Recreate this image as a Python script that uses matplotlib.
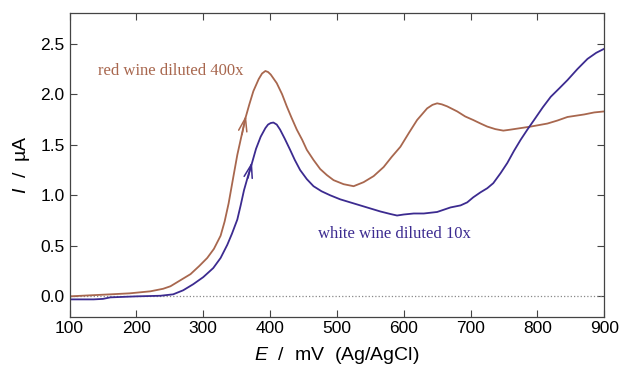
import numpy as np
import matplotlib
matplotlib.use('Agg')
import matplotlib.pyplot as plt

matplotlib.rcParams.update({'font.size': 12.5, 'font.family': 'Liberation Sans',
                            'mathtext.fontset': 'custom',
                            'mathtext.rm': 'Liberation Sans',
                            'mathtext.it': 'Liberation Sans:italic'})

# red wine diluted 400x
red_E = [100, 130, 161, 190, 221, 240, 251, 266, 281, 294, 306, 316, 326, 332, 338, 345,
         351, 357, 363, 369, 375, 383, 388, 393, 397, 401, 410, 418, 425, 432, 440, 448, 455, 465,
         475, 485, 495, 510, 525, 540, 555, 570, 582, 595, 608, 620, 635, 643, 650, 657, 665, 680,
         692, 704, 715, 725, 737, 749, 760, 770, 790, 815, 830, 845, 860, 870, 885, 900]
red_I = [0.0, 0.01, 0.02, 0.03, 0.05, 0.075, 0.10, 0.16, 0.22, 0.30, 0.38, 0.47, 0.60, 0.74, 0.92, 1.18,
         1.40, 1.58, 1.76, 1.90, 2.03, 2.15, 2.205, 2.23, 2.22, 2.195, 2.11, 2.0, 1.88, 1.77, 1.65, 1.55, 1.45, 1.35,
         1.26, 1.20, 1.15, 1.11, 1.09, 1.13, 1.19, 1.28, 1.38, 1.48, 1.62, 1.745, 1.86, 1.895, 1.91, 1.90, 1.88, 1.83,
         1.78, 1.745, 1.71, 1.68, 1.655, 1.64, 1.65, 1.66, 1.68, 1.71, 1.74, 1.775, 1.79, 1.80, 1.82, 1.83]

# white wine diluted 10x
white_E = [100, 136, 150, 161, 200, 236, 255, 270, 285, 300, 315, 326, 336, 343, 351, 356,
           361, 367, 373, 379, 386, 393, 397, 401, 405, 410, 415, 422, 430, 437, 445, 455, 465, 477,
           490, 505, 520, 535, 550, 565, 580, 590, 600, 615, 630, 650, 670, 685, 695, 704,
           715, 725, 734, 745, 755, 765, 775, 785, 795, 808, 820, 833, 845, 860, 875, 888, 900]
white_I = [-0.03, -0.03, -0.025, -0.01, 0.0, 0.006, 0.02, 0.06, 0.12, 0.19, 0.28, 0.38, 0.51, 0.62, 0.76, 0.90,
           1.05, 1.19, 1.32, 1.46, 1.58, 1.665, 1.70, 1.715, 1.72, 1.70, 1.65, 1.56, 1.45, 1.35, 1.25, 1.16, 1.09, 1.04,
           1.0, 0.96, 0.93, 0.90, 0.87, 0.84, 0.815, 0.80, 0.81, 0.82, 0.82, 0.835, 0.88, 0.90, 0.93, 0.98,
           1.03, 1.07, 1.12, 1.22, 1.32, 1.44, 1.55, 1.65, 1.745, 1.87, 1.975, 2.06, 2.14, 2.25, 2.35, 2.41, 2.45]

RED = '#A8674E'
BLUE = '#3C2B90'

fig, ax = plt.subplots(figsize=(6.21, 3.72), dpi=100)
fig.subplots_adjust(left=0.112, right=0.973, top=0.964, bottom=0.149)

ax.axhline(0, color='#888888', linestyle=':', linewidth=0.9)
ax.plot(red_E, red_I, color=RED, linewidth=1.3)
ax.plot(white_E, white_I, color=BLUE, linewidth=1.3)

# scan direction arrows
arrow_style = '->, head_length=0.8, head_width=0.25'
ax.annotate('', xy=(364, 1.79), xytext=(358, 1.60),
            arrowprops=dict(arrowstyle=arrow_style, color=RED, lw=1.1, mutation_scale=12,
                            shrinkA=0, shrinkB=0))
ax.annotate('', xy=(373, 1.33), xytext=(367, 1.17),
            arrowprops=dict(arrowstyle=arrow_style, color=BLUE, lw=1.1, mutation_scale=12,
                            shrinkA=0, shrinkB=0))

ax.text(143, 2.23, 'red wine diluted 400x', color=RED, fontsize=12,
        family='Liberation Serif', va='center')
ax.text(472, 0.62, 'white wine diluted 10x', color=BLUE, fontsize=12,
        family='Liberation Serif', va='center')

ax.set_xlim(100, 900)
ax.set_ylim(-0.2, 2.8)
ax.set_xticks(np.arange(100, 901, 100))
ax.set_yticks(np.arange(0, 2.6, 0.5))
ax.yaxis.set_major_formatter(matplotlib.ticker.FormatStrFormatter('%.1f'))
ax.tick_params(direction='in', top=True, right=True, length=5, width=0.8, color='#444444')
for s in ax.spines.values():
    s.set_color('#444444')
    s.set_linewidth(0.9)

ax.set_xlabel(r'$\mathit{E}$  /  mV  (Ag/AgCl)', fontsize=14, labelpad=6)
ax.set_ylabel(r'$\mathit{I}$  /  µA', fontsize=14, labelpad=6)

fig.savefig('out.png', dpi=100)
